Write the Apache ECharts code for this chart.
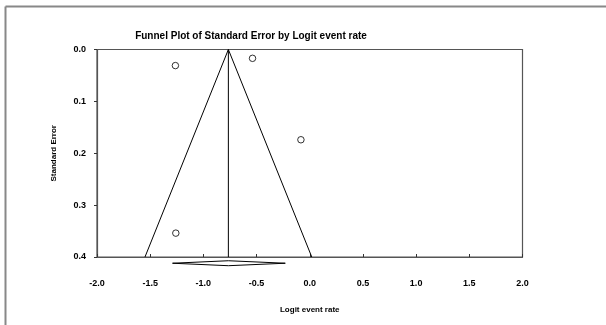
<!DOCTYPE html>
<html>
<head>
<meta charset="utf-8">
<script src="https://cdn.jsdelivr.net/npm/echarts@6/dist/echarts.min.js"></script>
<style>html,body{margin:0;padding:0;background:#fff}#c{width:606px;height:325px}</style>
</head>
<body>
<div id="c"></div>
<script>
// Data
var studyLogit = [-1.263, -0.538, -0.083, -1.259];
var studySE = [0.031, 0.017, 0.174, 0.354];
var meanLogit = -0.765;
var maxSE = 0.4;
var diamondLow = -1.29;
var diamondHigh = -0.23;
var xTicks = [-2.0, -1.5, -1.0, -0.5, 0.0, 0.5, 1.0, 1.5, 2.0];
var yTicks = [0.0, 0.1, 0.2, 0.3, 0.4];

var points = studyLogit.map(function (x, i) { return [x, studySE[i]]; });
var funnel = [[meanLogit - 1.96 * maxSE, maxSE], [meanLogit, 0], [meanLogit + 1.96 * maxSE, maxSE]];
var centerLine = [[meanLogit, 0], [meanLogit, maxSE]];
var dY = 0.412, dH = 0.0048;
var diamond = [[diamondLow, dY], [meanLogit, dY - dH], [diamondHigh, dY], [meanLogit, dY + dH], [diamondLow, dY]];

var font = 'Liberation Sans, Arial, sans-serif';
var chart = echarts.init(document.getElementById('c'), null, { renderer: 'canvas' });
chart.setOption({
  animation: false,
  backgroundColor: '#fff',
  title: {
    text: 'Funnel Plot of Standard Error by Logit event rate',
    left: 246, top: 26, textAlign: 'center',
    textStyle: { fontFamily: font, fontSize: 10, fontWeight: 'bold', color: '#000' }
  },
  grid: { left: 97, top: 49.5, right: 83.5, bottom: 68, show: true, borderColor: '#555', borderWidth: 1.2, backgroundColor: 'transparent' },
  xAxis: {
    type: 'value', min: xTicks[0], max: xTicks[xTicks.length - 1], interval: 0.5,
    name: 'Logit event rate', nameLocation: 'middle', nameGap: 49,
    nameTextStyle: { fontFamily: font, fontSize: 8, fontWeight: 'bold', color: '#000' },
    axisLine: { show: true, onZero: false, lineStyle: { color: '#555', width: 1.2 } },
    axisTick: { show: true, inside: true, length: 3, lineStyle: { color: '#333' } },
    axisLabel: { fontFamily: font, fontSize: 9, fontWeight: 'bold', color: '#000', margin: 22, formatter: function (v) { return v.toFixed(1); } },
    splitLine: { show: false }
  },
  yAxis: {
    type: 'value', inverse: true, min: yTicks[0], max: yTicks[yTicks.length - 1], interval: 0.1,
    name: 'Standard Error', nameLocation: 'middle', nameGap: 39, nameRotate: 90,
    nameTextStyle: { fontFamily: font, fontSize: 8, fontWeight: 'bold', color: '#000' },
    axisLine: { show: true, onZero: false, lineStyle: { color: '#555', width: 1.2 } },
    axisTick: { show: true, length: 3, lineStyle: { color: '#333' } },
    axisLabel: { fontFamily: font, fontSize: 9, fontWeight: 'bold', color: '#000', margin: 11, formatter: function (v) { return v.toFixed(1); } },
    splitLine: { show: false }
  },
  graphic: [
    { type: 'line', shape: { x1: 5.5, y1: 6.5, x2: 606, y2: 6.5 }, style: { stroke: '#888', lineWidth: 2 } },
    { type: 'line', shape: { x1: 5.5, y1: 6.5, x2: 5.5, y2: 325 }, style: { stroke: '#888', lineWidth: 2 } }
  ],
  series: [
    { type: 'line', data: funnel, symbol: 'none', lineStyle: { color: '#000', width: 1 }, z: 2 },
    { type: 'line', data: centerLine, symbol: 'none', lineStyle: { color: '#000', width: 1 }, z: 2 },
    { type: 'line', data: diamond, symbol: 'none', clip: false, lineStyle: { color: '#000', width: 1 }, z: 2 },
    { type: 'scatter', data: points, symbol: 'circle', symbolSize: 6.5,
      itemStyle: { color: '#fff', borderColor: '#000', borderWidth: 1 }, z: 3 }
  ]
});
</script>
</body>
</html>
